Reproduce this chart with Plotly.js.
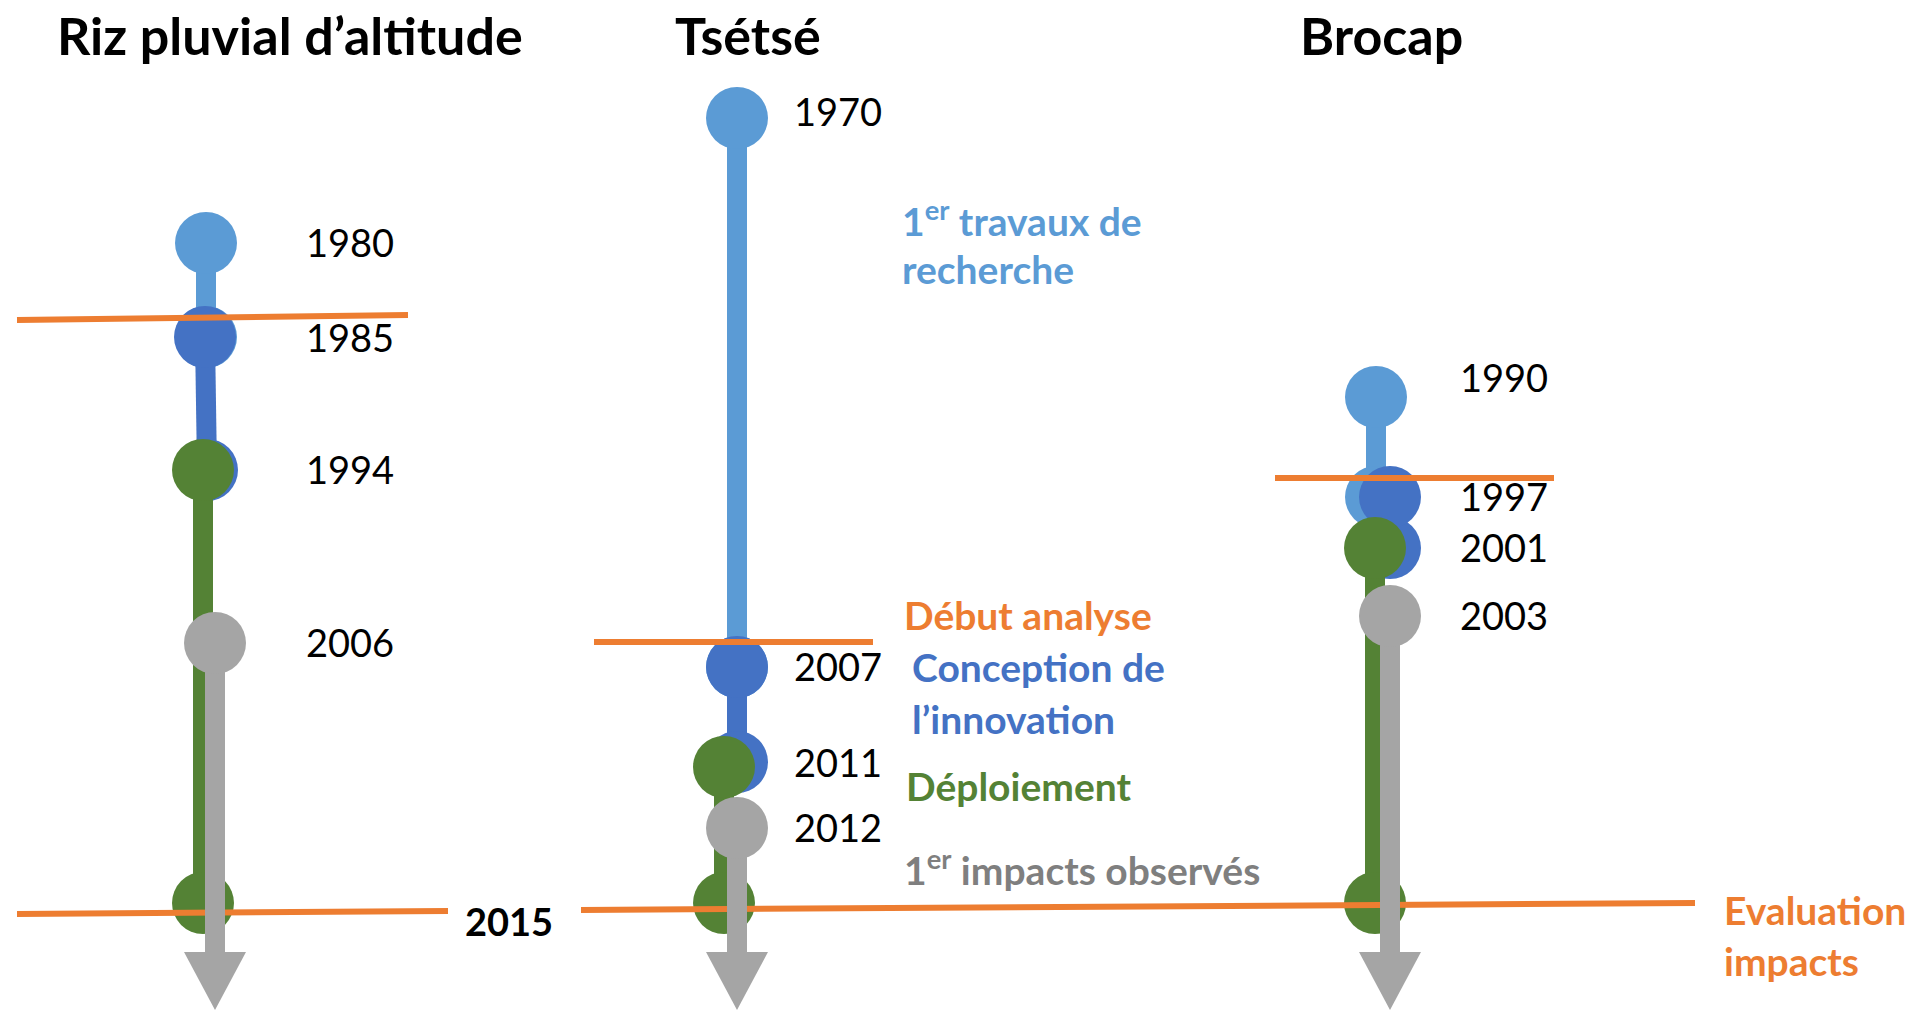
<!DOCTYPE html>
<html><head><meta charset="utf-8">
<script src="https://cdn.plot.ly/plotly-3.0.1.min.js"></script>
<style>html,body{margin:0;padding:0;background:#fff;overflow:hidden}</style>
</head><body><div id="chart" style="width:1912px;height:1010px"></div>
<script>
// ---------------- DATA ----------------
const columnTitles = ['Riz pluvial d’altitude', 'Tsétsé', 'Brocap'];
const rizYears = [1980, 1985, 1994, 2006, 2015];
const tseYears = [1970, 2007, 2011, 2012, 2015];
const broYears = [1990, 1997, 2001, 2003, 2015];
const phaseNames = ['1<sup>er</sup> travaux de', 'recherche', 'Conception de', 'l’innovation', 'Déploiement', '1<sup>er</sup> impacts observés'];
const milestoneNames = ['Début analyse', 'Evaluation', 'impacts'];

// ---------------- LAYOUT / STYLE (schematic positions) ----------------
const W = 1912, H = 1010;
const FONT = 'Lato, "Open Sans", sans-serif';
const phaseColors = ['#5B9BD5', '#4472C4', '#548235', '#A5A5A5'];
const phaseTextColors = ['#5B9BD5', '#4472C4', '#548235', '#7F7F7F'];
const orange = '#ED7D31';
const DOT = 62, STEM = 20, SHAFT_END = 952, HEAD_W = 62;

const cols = [
  { years: rizYears, titleX: 290,
    phases: [[206,243,206,337],[205,337,207,470],[203,470,203,903],[215,643,215,SHAFT_END]],
    labelX: 306, labelY: [247,342,474,647],
    startLine: [17,320,408,315] },
  { years: tseYears, titleX: 748,
    phases: [[737,118,737,667],[737,667,737,762],[724,767,724,903],[737,828,737,SHAFT_END]],
    labelX: 794, labelY: [116,671,767,832],
    startLine: [594,642,873,642] },
  { years: broYears, titleX: 1381,
    phases: [[1376,397,1376,497],[1390,497,1390,548],[1375,548,1375,903],[1390,616,1390,SHAFT_END]],
    labelX: 1460, labelY: [382,501,552,620],
    startLine: [1275,478,1554,478] }
];
const evalLine = [[17,914,448,911],[581,910,1695,903]];
const phaseTextPos = [[900,218],[900,269],[910,667],[910,719],[904,786],[902,867]];
const phaseTextColor = [0,0,1,1,2,3];
const milestonePos = [[902,615],[1722,910],[1722,961]];

// ---------------- TRACES ----------------
const traces = [];
const orangeTraces = [];
const grayTraces = [];
cols.forEach(c => {
  c.phases.forEach((p, k) => {
    const [x0,y0,x1,y1] = p;
    const color = phaseColors[k];
    const target = (k === 3) ? grayTraces : traces;
    target.push({x:[x0,x1], y:[y0,y1], mode:'lines', line:{color, width:STEM}, hoverinfo:'skip', showlegend:false});
    const cx = k === 3 ? [x0] : [x1, x0];
    const cy = k === 3 ? [y0] : [y1, y0];
    const yr = k === 3 ? [c.years[k]] : [c.years[k+1], c.years[k]];
    target.push({x:cx, y:cy, customdata: yr, mode:'markers', marker:{color, size:DOT, line:{width:0}}, hoverinfo:'skip', showlegend:false});
    if (k === 3) {
      target.push({x:[x1-HEAD_W/2, x1+HEAD_W/2, x1, x1-HEAD_W/2], y:[SHAFT_END, SHAFT_END, H, SHAFT_END],
        mode:'lines', fill:'toself', fillcolor:color, line:{color, width:0}, hoverinfo:'skip', showlegend:false});
    }
  });
  const s = c.startLine;
  orangeTraces.push({x:[s[0],s[2]], y:[s[1],s[3]], mode:'lines', line:{color:orange, width:6}, hoverinfo:'skip', showlegend:false});
  traces.push({x: c.labelY.map(() => c.labelX), y: c.labelY, text: c.years.slice(0,4).map(String),
    mode:'text', textposition:'middle right', textfont:{family:FONT, size:38, color:'#000'}, hoverinfo:'skip', showlegend:false});
});
evalLine.forEach(s => orangeTraces.push({x:[s[0],s[2]], y:[s[1],s[3]], mode:'lines', line:{color:orange, width:6}, hoverinfo:'skip', showlegend:false}));

const data = traces.concat(orangeTraces, grayTraces);

// ---------------- ANNOTATIONS ----------------
const ann = [];
columnTitles.forEach((t, i) => ann.push({x: cols[i].titleX, y: 35, text: t, showarrow:false, xanchor:'center', yanchor:'middle',
  font:{family:FONT, size:52, color:'#000', weight:'bold'}}));
phaseNames.forEach((t, i) => ann.push({x: phaseTextPos[i][0], y: phaseTextPos[i][1], text: t, showarrow:false, xanchor:'left', yanchor:'middle',
  font:{family:FONT, size:39, color: phaseTextColors[phaseTextColor[i]], weight:'bold'}}));
milestoneNames.forEach((t, i) => ann.push({x: milestonePos[i][0], y: milestonePos[i][1], text: t, showarrow:false, xanchor:'left', yanchor:'middle',
  font:{family:FONT, size:39, color: orange, weight:'bold'}}));
ann.push({x: 463, y: 921, text: String(rizYears[4]), showarrow:false, xanchor:'left', yanchor:'middle',
  font:{family:FONT, size:38, color:'#000', weight:'bold'}});

const layout = {
  width: W, height: H, margin:{l:0,r:0,t:0,b:0},
  paper_bgcolor:'#fff', plot_bgcolor:'#fff',
  xaxis:{range:[0,W], visible:false, fixedrange:true},
  yaxis:{range:[H,0], visible:false, fixedrange:true},
  annotations: ann, showlegend:false
};
Plotly.newPlot('chart', data, layout, {displayModeBar:false, staticPlot:true});
</script></body></html>
